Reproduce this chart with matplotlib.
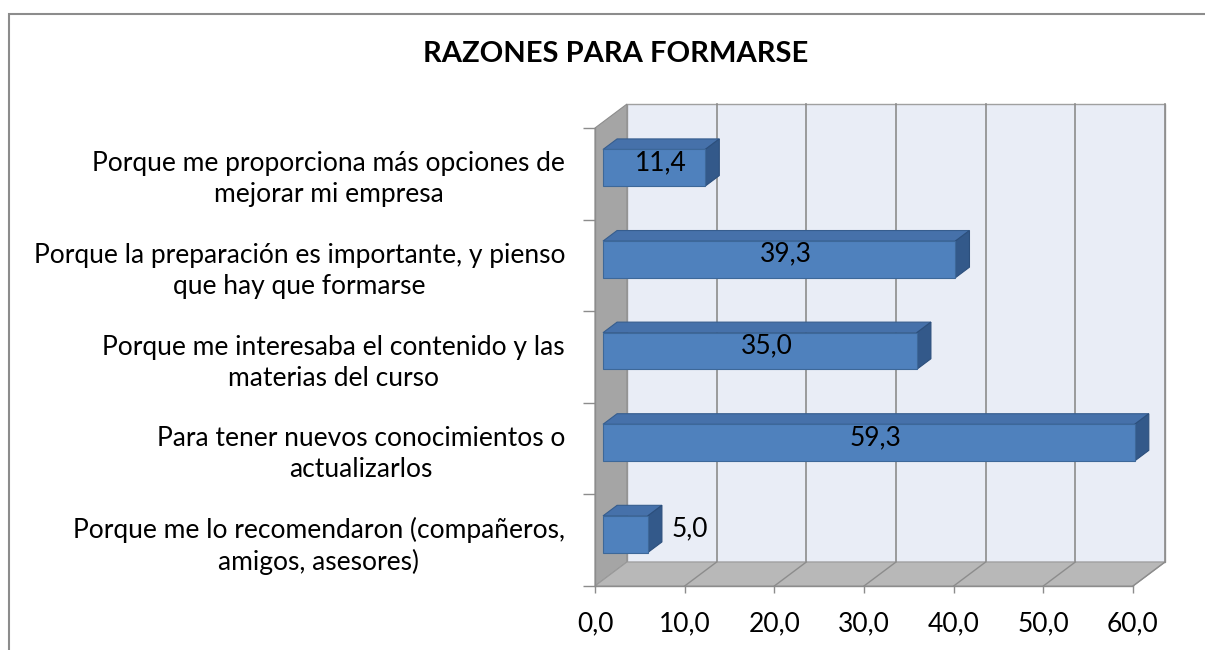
import matplotlib
matplotlib.use('Agg')
import matplotlib.pyplot as plt
from matplotlib.patches import Polygon, Rectangle
import numpy as np

plt.rcParams['font.family'] = ['Lato', 'DejaVu Sans']

# Data (bottom to top, as drawn)
categories = [
    'Porque me lo recomendaron (compañeros,\namigos, asesores)',
    'Para tener nuevos conocimientos o\nactualizarlos',
    'Porque me interesaba el contenido y las\nmaterias del curso',
    'Porque la preparación es importante, y pienso\nque hay que formarse',
    'Porque me proporciona más opciones de\nmejorar mi empresa',
]
values = [5.0, 59.3, 35.0, 39.3, 11.4]
xticks = [0, 10, 20, 30, 40, 50, 60]
title = 'RAZONES PARA FORMARSE'

W, H = 1205, 650
fig = plt.figure(figsize=(W / 100, H / 100), dpi=100)

# outer chart border
fig.patches.append(Rectangle((9 / W, -0.1), 1.2, (H - 14) / H + 0.1, transform=fig.transFigure,
                             fill=False, edgecolor='#8c8c8c', linewidth=1.5))

# front plane of the plot in pixels
x0, x1 = 595, 1133
ytop, ybot = 128, 586
ax = fig.add_axes([x0 / W, (H - ybot) / H, (x1 - x0) / W, (ybot - ytop) / H])
ax.set_xlim(0, 60)
ax.set_ylim(0, len(categories))

# depth offset (back wall) in data units
DX = 32 / ((x1 - x0) / 60)
DY = 24 / ((ybot - ytop) / len(categories))
n = len(categories)
xmax = xticks[-1]

def poly(pts, fc, ec='none', lw=0.8, z=1):
    p = Polygon(pts, closed=True, facecolor=fc, edgecolor=ec, linewidth=lw, zorder=z, clip_on=False)
    ax.add_patch(p)

# back wall, left wall, floor
poly([(DX, DY), (xmax + DX, DY), (xmax + DX, n + DY), (DX, n + DY)], '#e9edf6', '#a0a0a0', 1.0, 0)
poly([(0, 0), (DX, DY), (DX, n + DY), (0, n)], '#a5a5a5', '#8c8c8c', 0.8, 1)
poly([(0, 0), (xmax, 0), (xmax + DX, DY), (DX, DY)], '#b8b8b8', '#9a9a9a', 0.8, 1)

# grid lines on back wall and floor
for v in xticks[1:]:
    ax.plot([v + DX, v + DX], [DY, n + DY], color='#8c8c8c', lw=1.2, zorder=0.5, clip_on=False)
    ax.plot([v, v + DX], [0, DY], color='#8c8c8c', lw=1.0, zorder=1.5, clip_on=False)

# bars
f1, f2 = 0.25, 0.69
h = 0.2
fs = 19
for i, v in enumerate(values):
    yc = i + 0.5
    ox1, oy1 = f1 * DX, f1 * DY
    ox2, oy2 = f2 * DX, f2 * DY
    # top face
    poly([(ox1, yc + h + oy1), (v + ox1, yc + h + oy1), (v + ox2, yc + h + oy2), (ox2, yc + h + oy2)],
         '#4671aa', '#365d8e', 0.8, 3)
    # right face
    poly([(v + ox1, yc - h + oy1), (v + ox2, yc - h + oy2), (v + ox2, yc + h + oy2), (v + ox1, yc + h + oy1)],
         '#33598a', '#2c4f7c', 0.8, 3)
    # front face
    poly([(ox1, yc - h + oy1), (v + ox1, yc - h + oy1), (v + ox1, yc + h + oy1), (ox1, yc + h + oy1)],
         '#4f81bd', '#3d6899', 0.8, 4)
    cx = v / 2 + (f1 + f2) / 2 * DX
    cy = yc + (f1 + f2) / 2 * DY
    if v < 8:
        ax.text(v + ox2 + 1.1, cy, f'{v:.1f}'.replace('.', ','), ha='left', va='center',
                fontsize=fs, zorder=6)
    else:
        ax.text(cx, cy, f'{v:.1f}'.replace('.', ','), ha='center', va='center',
                fontsize=fs, zorder=6)

# axes: ticks and labels
for s in ax.spines.values():
    s.set_visible(False)
ax.set_facecolor('none')
ax.set_xticks(xticks)
ax.set_xticklabels([f'{t:.1f}'.replace('.', ',') for t in xticks], fontsize=fs)
ax.tick_params(axis='x', length=5, width=1, color='#8c8c8c', pad=13)
ax.set_yticks(np.arange(n + 1))
ax.set_yticklabels([])
ax.tick_params(axis='y', which='major', length=8.5, width=1, color='#8c8c8c')
ax.set_yticks(np.arange(n) + 0.5, minor=True)
ax.set_yticklabels(categories, minor=True, fontsize=fs)
ax.tick_params(axis='y', which='minor', length=0, pad=21.6)
for lbl in ax.get_yticklabels(minor=True):
    lbl.set_multialignment('center')
    lbl.set_linespacing(1.3)
ax.plot([0, xmax], [0, 0], color='#8c8c8c', lw=1, zorder=2, clip_on=False)
ax.plot([0, 0], [0, n], color='#8c8c8c', lw=1, zorder=2, clip_on=False)

fig.text(616 / W, 1 - 54 / H, title, ha='center', va='center', fontsize=21, fontweight='bold')

fig.savefig('out.png', dpi=100)
